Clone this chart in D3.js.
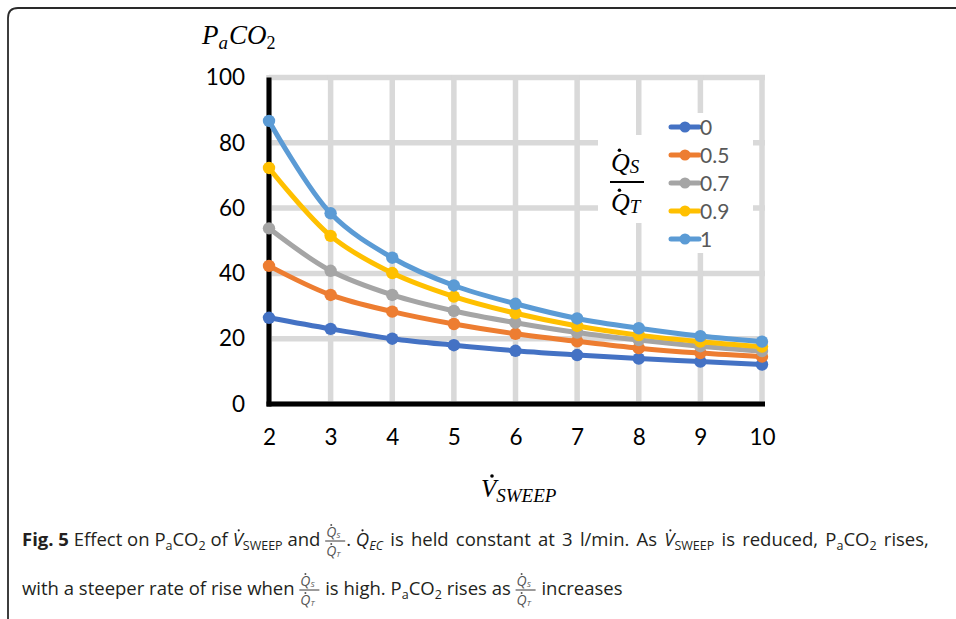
<!DOCTYPE html>
<html>
<head>
<meta charset="utf-8">
<script src="https://cdn.jsdelivr.net/npm/d3@7"></script>
<style>
  html, body { margin: 0; padding: 0; background: #fff; }
  svg { display: block; }
  svg text { white-space: pre; }
</style>
</head>
<body>
<svg id="chart" width="956" height="619"></svg>
<script>
// Sweep gas flow (l/min)
const sweepFlow = [2, 3, 4, 5, 6, 7, 8, 9, 10];
// Shunt fraction Qs/Qt for each curve
const shuntLabels = ["0", "0.5", "0.7", "0.9", "1"];
const seriesColors = ["#4472c4", "#ed7d31", "#a5a5a5", "#ffc000", "#5b9bd5"];
// PaCO2 for each shunt fraction
const paco2_0   = [26.4, 23.0, 20.0, 18.0, 16.3, 15.0, 13.9, 13.0, 12.1];
const paco2_05  = [42.3, 33.4, 28.3, 24.5, 21.5, 19.2, 17.1, 15.6, 14.5];
const paco2_07  = [53.8, 40.8, 33.4, 28.5, 24.9, 21.9, 19.6, 17.7, 16.2];
const paco2_09  = [72.3, 51.5, 40.1, 32.9, 27.8, 23.9, 21.1, 19.1, 17.6];
const paco2_1   = [86.7, 58.4, 44.8, 36.3, 30.7, 26.2, 23.2, 20.8, 19.1];
const yTicks = [0, 20, 40, 60, 80, 100];

const allSeries = [paco2_0, paco2_05, paco2_07, paco2_09, paco2_1];

const svg = d3.select("#chart");

// page frame
svg.append("path")
  .attr("d", "M8,619 V18 Q8,8 18,8 H956")
  .attr("fill", "none").attr("stroke", "#2a2a2a").attr("stroke-width", 1.8);

const x = d3.scaleLinear().domain([2, 10]).range([269, 762]);
const y = d3.scaleLinear().domain([0, 100]).range([404, 77.5]);

// gridlines
const grid = svg.append("g").attr("stroke", "#d9d9d9").attr("stroke-width", 5.5);
grid.selectAll("line.h").data(yTicks).join("line")
  .attr("x1", x(2)).attr("x2", x(10) + 3)
  .attr("y1", d => y(d)).attr("y2", d => y(d));
grid.selectAll("line.v").data(sweepFlow).join("line")
  .attr("x1", d => x(d)).attr("x2", d => x(d))
  .attr("y1", y(100) - 2.5).attr("y2", y(0));

// white backgrounds behind legend title and legend
svg.append("rect").attr("x", 598).attr("y", 135).attr("width", 62).attr("height", 88).attr("fill", "#fff");
svg.append("rect").attr("x", 655).attr("y", 113).attr("width", 98).attr("height", 140).attr("fill", "#fff");

// axis lines
svg.append("line").attr("x1", x(2)).attr("x2", x(2)).attr("y1", y(100)).attr("y2", y(0) + 2.5)
  .attr("stroke", "#000").attr("stroke-width", 5);
svg.append("line").attr("x1", x(2) - 2.5).attr("x2", x(10) + 3).attr("y1", y(0)).attr("y2", y(0))
  .attr("stroke", "#000").attr("stroke-width", 5);

// tick labels
const yAxis = svg.append("g").attr("transform", `translate(${x(2) - 14},0)`)
  .call(d3.axisLeft(y).tickValues(yTicks).tickSize(0).tickPadding(10).tickFormat(d3.format("d")));
yAxis.select(".domain").remove();
yAxis.selectAll("text").attr("font-family", "Lato, sans-serif").attr("font-size", 22.5).attr("fill", "#000");

const xAxis = svg.append("g").attr("transform", `translate(0,${y(0) + 20})`)
  .call(d3.axisBottom(x).tickValues(sweepFlow).tickSize(0).tickPadding(5).tickFormat(d3.format("d")));
xAxis.select(".domain").remove();
xAxis.selectAll("text").attr("font-family", "Lato, sans-serif").attr("font-size", 22.5).attr("fill", "#000");

// series
const line = d3.line().x((d, i) => x(sweepFlow[i])).y(d => y(d)).curve(d3.curveCatmullRom.alpha(0.5));
allSeries.forEach((vals, s) => {
  const g = svg.append("g");
  g.append("path").attr("d", line(vals)).attr("fill", "none")
    .attr("stroke", seriesColors[s]).attr("stroke-width", 5).attr("stroke-linecap", "round");
  g.selectAll("circle").data(vals).join("circle")
    .attr("cx", (d, i) => x(sweepFlow[i])).attr("cy", d => y(d)).attr("r", 6.2)
    .attr("fill", seriesColors[s]);
});

// legend
const legend = svg.append("g");
shuntLabels.forEach((lab, i) => {
  const ly = 127 + i * 28;
  legend.append("line").attr("x1", 671).attr("x2", 699).attr("y1", ly).attr("y2", ly)
    .attr("stroke", seriesColors[i]).attr("stroke-width", 5).attr("stroke-linecap", "round");
  legend.append("circle").attr("cx", 685).attr("cy", ly).attr("r", 5.5).attr("fill", seriesColors[i]);
  legend.append("text").attr("x", 700).attr("y", ly + 7.5).text(lab)
    .attr("font-family", "Lato, sans-serif").attr("font-size", 21).attr("fill", "#595959");
});

// math-style helper: sequence of text runs, with optional dot accent
const serif = "'Liberation Serif', 'DejaVu Serif', serif";
function runs(g, x0, base, parts, family, fill) {
  let cx = x0;
  parts.forEach(p => {
    const t = g.append("text").attr("x", cx).attr("y", base + (p.dy || 0))
      .attr("font-family", p.ff || family).attr("font-size", p.sz)
      .attr("font-style", p.it ? "italic" : "normal")
      .attr("font-weight", p.bold ? "bold" : "normal")
      .attr("fill", fill).text(p.t);
    if (p.ws) t.attr("word-spacing", p.ws);
    const w = t.node().getComputedTextLength();
    if (p.dot) {
      g.append("circle").attr("cx", cx + w * p.dot[0]).attr("cy", base + (p.dy || 0) - p.sz * p.dot[1])
        .attr("r", p.dot[2]).attr("fill", fill);
    }
    cx += w + (p.gap || 0);
  });
  return cx;
}

// y-axis title PaCO2
runs(svg.append("g"), 202, 44, [
  { t: "P", sz: 27, it: true },
  { t: "a", sz: 19, it: true, dy: 5, gap: 1 },
  { t: "CO", sz: 27, it: true },
  { t: "2", sz: 18, dy: 5 }
], serif, "#000");

// x-axis title V̇SWEEP
runs(svg.append("g"), 481, 497, [
  { t: "V", sz: 25, it: true, dot: [0.72, 0.84, 1.8] },
  { t: "SWEEP", sz: 19, it: true, dy: 5 }
], serif, "#000");

// legend title Qs/Qt fraction
const lt = svg.append("g");
runs(lt, 611, 171, [
  { t: "Q", sz: 26, it: true, dot: [0.45, 0.8, 1.8] },
  { t: "S", sz: 19, it: true, dy: 2 }
], serif, "#000");
lt.append("line").attr("x1", 610).attr("x2", 644).attr("y1", 182).attr("y2", 182)
  .attr("stroke", "#000").attr("stroke-width", 2);
runs(lt, 611, 211, [
  { t: "Q", sz: 26, it: true, dot: [0.45, 0.8, 1.8] },
  { t: "T", sz: 19, it: true, dy: 2 }
], serif, "#000");

// caption
const cap = svg.append("g");
const sans = "'Open Sans', 'Noto Sans', sans-serif";
const capFill = "#231f20";
const CS = 18.5;
const SS = 12.5;
const WS = 2.4; // justified first line
function frac(g, x0, base) {
  const fg = g.append("g");
  runs(fg, x0 + 1, base - 9, [
    { t: "Q", sz: 14, it: true, dot: [0.5, 0.85, 1] },
    { t: "S", sz: 8, it: true, dy: 1 }
  ], sans, "#555");
  fg.append("line").attr("x1", x0).attr("x2", x0 + 20).attr("y1", base - 5).attr("y2", base - 5)
    .attr("stroke", capFill).attr("stroke-width", 0.9);
  runs(fg, x0 + 1, base + 10, [
    { t: "Q", sz: 14, it: true, dot: [0.5, 0.85, 1] },
    { t: "T", sz: 8, it: true, dy: 1 }
  ], sans, "#555");
  return x0 + 21;
}
let cx = runs(cap, 22, 546, [
  { t: "Fig. 5 ", sz: CS, bold: true },
  { t: "Effect on P", sz: CS },
  { t: "a", sz: SS, dy: 4 },
  { t: "CO", sz: CS },
  { t: "2", sz: SS, dy: 4 },
  { t: " of ", sz: CS },
  { t: "V", sz: CS, it: true, dot: [0.6, 0.85, 1.1] },
  { t: "SWEEP", sz: SS, dy: 4 },
  { t: " and ", sz: CS }
], sans, capFill);
cx = frac(cap, cx, 546);
cx = runs(cap, cx, 546, [
  { t: ". ", sz: CS },
  { t: "Q", sz: CS, it: true, dot: [0.5, 0.85, 1.1] },
  { t: "EC", sz: SS, it: true, dy: 4 },
  { t: " is held constant at 3 l/min. As ", sz: CS, ws: WS },
  { t: "V", sz: CS, it: true, dot: [0.6, 0.85, 1.1] },
  { t: "SWEEP", sz: SS, dy: 4 },
  { t: " is reduced, P", sz: CS, ws: WS },
  { t: "a", sz: SS, dy: 4 },
  { t: "CO", sz: CS },
  { t: "2", sz: SS, dy: 4 },
  { t: " rises,", sz: CS, ws: WS }
], sans, capFill);

cx = runs(cap, 22, 595, [
  { t: "with a steeper rate of rise when ", sz: CS }
], sans, capFill);
cx = frac(cap, cx, 595);
cx = runs(cap, cx, 595, [
  { t: " is high. P", sz: CS },
  { t: "a", sz: SS, dy: 4 },
  { t: "CO", sz: CS },
  { t: "2", sz: SS, dy: 4 },
  { t: " rises as ", sz: CS }
], sans, capFill);
cx = frac(cap, cx, 595);
runs(cap, cx, 595, [{ t: " increases", sz: CS }], sans, capFill);
</script>
</body>
</html>
